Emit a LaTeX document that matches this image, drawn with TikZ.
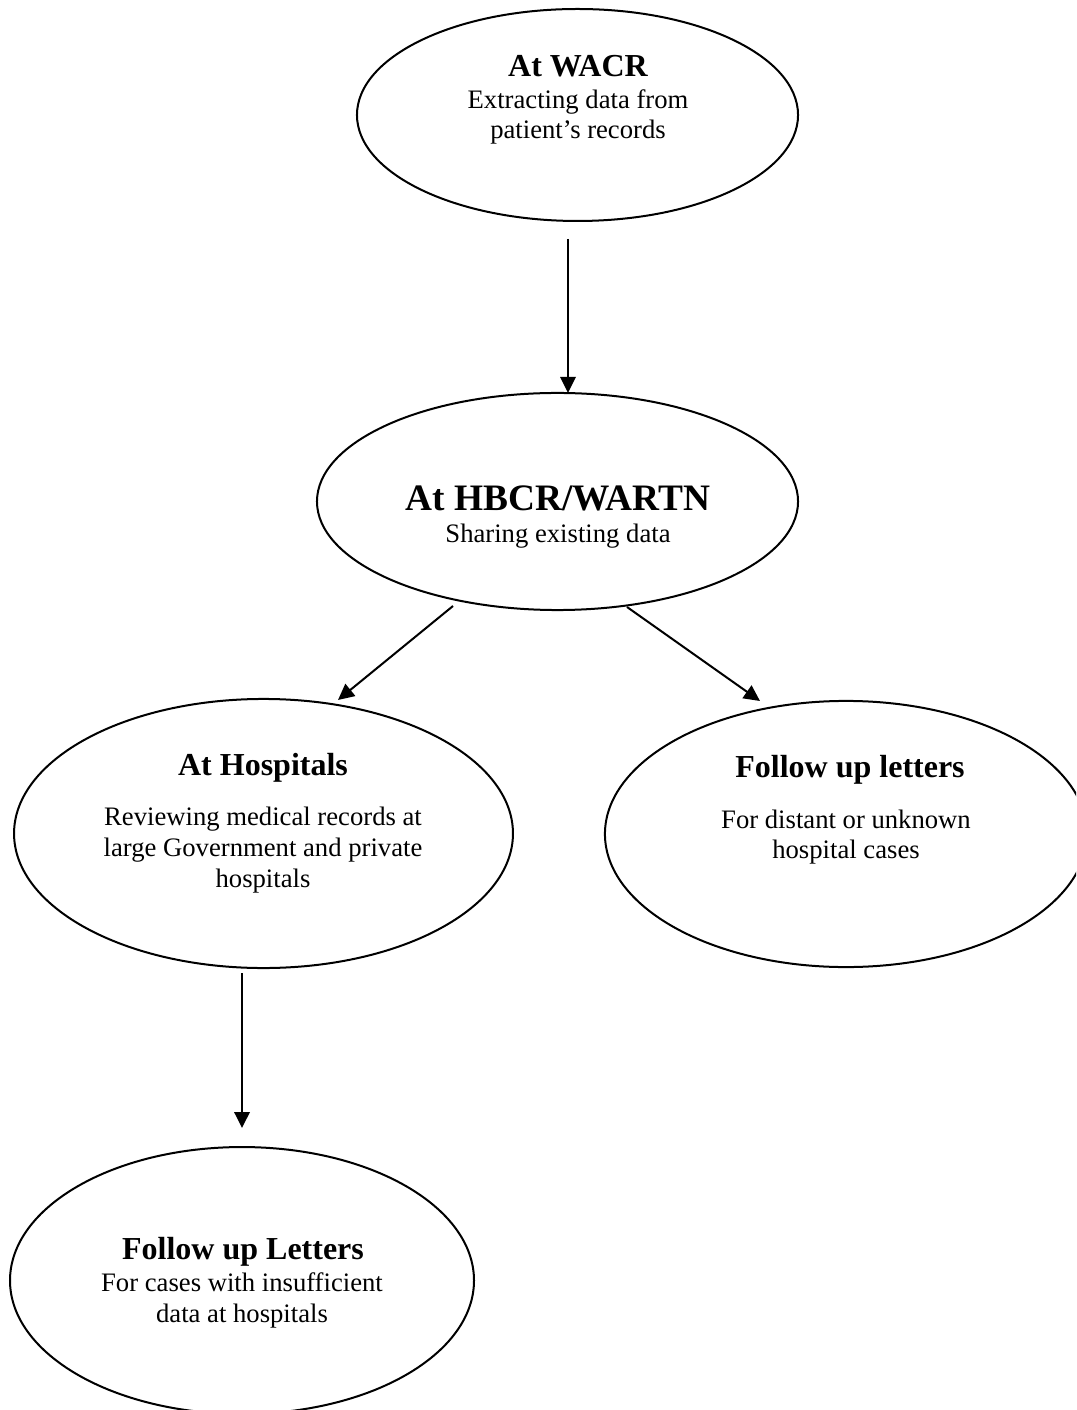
\documentclass[tikz,border=0pt]{standalone}
\usepackage{fontspec}
\setmainfont{Liberation Serif}
\usetikzlibrary{shapes.geometric,arrows.meta}
\begin{document}
\begin{tikzpicture}[x=0.375pt,y=-0.375pt,
  oval/.style={draw,ellipse,line width=0.75pt,inner sep=0pt,outer sep=0pt},
  ttl/.style={anchor=base,inner sep=0pt,font=\fontsize{12}{14}\selectfont\bfseries},
  bigttl/.style={anchor=base,inner sep=0pt,font=\fontsize{14}{16}\selectfont\bfseries},
  txt/.style={anchor=base,inner sep=0pt,font=\fontsize{10}{11.5}\selectfont},
  arr/.style={line width=0.75pt,-{Triangle[length=6pt,width=5.8pt]}}]
\useasboundingbox (0,0) rectangle (1076,1410);
\clip (0,0) rectangle (1076,1410);
% ellipses
\node[oval,minimum width=165.4pt,minimum height=79.5pt] (wacr) at (577.5,115) {};
\node[oval,minimum width=180.4pt,minimum height=81.4pt] (hbcr) at (557.5,501.5) {};
\node[oval,minimum width=187.1pt,minimum height=100.9pt] (hosp) at (263.5,833.5) {};
\node[oval,minimum width=180.8pt,minimum height=99.8pt] (fua) at (846,834) {};
\node[oval,minimum width=174pt,minimum height=100.1pt] (fub) at (242,1280.5) {};
% texts
\node[ttl] (wacrT) at (578,77) {At WACR};
\node[txt] (wacrA) at (578,109) {Extracting data from};
\node[txt] (wacrB) at (578,139) {patient’s records};
\node[bigttl] (hbcrT) at (558,511) {At HBCR/WARTN};
\node[txt] (hbcrA) at (558,543) {Sharing existing data};
\node[ttl] (hospT) at (263,775) {At Hospitals};
\node[txt] (hospA) at (263,825) {Reviewing medical records at};
\node[txt] (hospB) at (263,856) {large Government and private};
\node[txt] (hospC) at (263,887) {hospitals};
\node[ttl] (fuaT) at (850,777) {Follow up letters};
\node[txt] (fuaA) at (846,828) {For distant or unknown};
\node[txt] (fuaB) at (846,858) {hospital cases};
\node[ttl] (fubT) at (243,1259) {Follow up Letters};
\node[txt] (fubA) at (242,1291) {For cases with insufficient};
\node[txt] (fubB) at (242,1322) {data at hospitals};
% connectors
\coordinate (s1) at (568,239);
\coordinate (s2) at (453,606);
\coordinate (t2) at (338,700);
\coordinate (s3) at (627,607);
\coordinate (t3) at (760,701);
\coordinate (s4) at (242,973);
\coordinate (t4) at (242,1128);
\draw[arr] (s1) -- (s1 |- hbcr.north);
\draw[arr] (s2) -- (t2);
\draw[arr] (s3) -- (t3);
\draw[arr] (s4) -- (t4);
\end{tikzpicture}
\end{document}
